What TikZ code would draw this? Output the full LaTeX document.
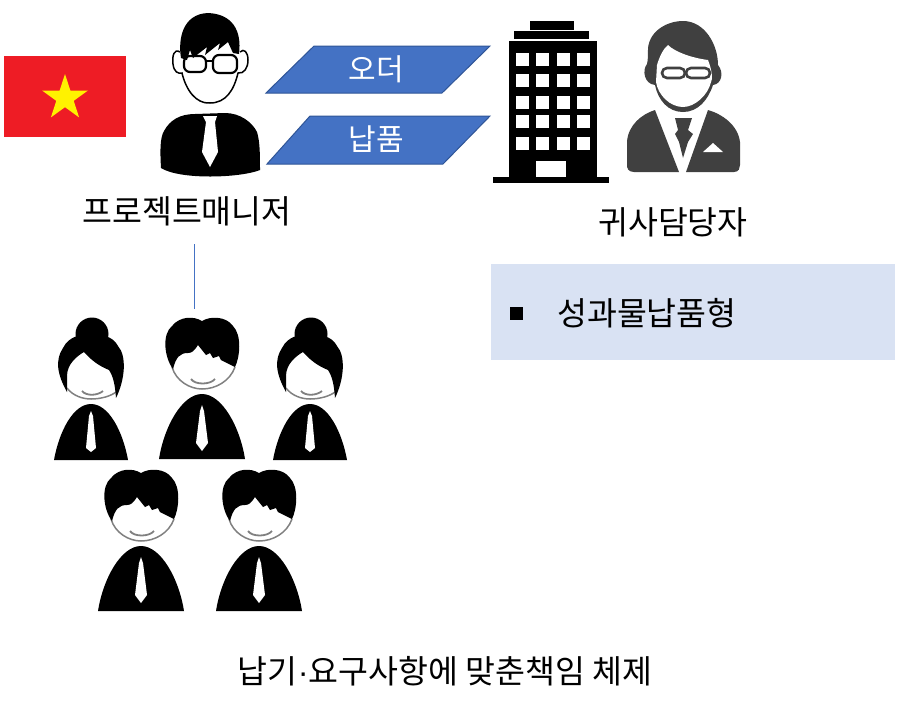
\documentclass[tikz,border=0pt]{standalone}
\usepackage{fontspec}
\setmainfont{Noto Sans CJK KR}
\newfontfamily\dotfont{Liberation Sans}
\usetikzlibrary{shapes.geometric,positioning}

\tikzset{
    bobman/.pic={
        \fill (-43,0) .. controls (-38,-32) and (-20,-65) .. (0,-65) .. controls (20,-65) and (38,-32) .. (43,0) -- cycle;
        \fill[white] (0,-54) -- (-2,-48) -- (-6,-16) -- (0,-8) -- (6,-16) -- (2,-48) -- cycle;
        \draw[gray, line width=1.5pt] (-30,-92) .. controls (-26,-78) and (-12,-70) .. (0,-70) .. controls (14,-70) and (28,-78) .. (33,-92);
        \draw[gray, line width=1.8pt] (-11,-80) .. controls (-7,-74) and (8,-74) .. (13,-80);
        \fill (-29,-90) .. controls (-38,-102) and (-40,-125) .. (-30,-133) .. controls (-22,-143) and (-8,-143) .. (0,-138) .. controls (8,-143) and (24,-143) .. (31,-133) .. controls (40,-124) and (38,-102) .. (33,-92) -- (19,-99) -- (17,-103) -- (11,-101) -- (8,-106) -- (4,-104) -- (-4,-114) .. controls (-8,-108) and (-10,-106) .. (-14,-106) .. controls (-22,-106) and (-26,-102) .. (-29,-90) -- cycle;
    },
    bunwoman/.pic={
        \fill (-37,0) .. controls (-32,-28) and (-18,-56) .. (0,-56) .. controls (18,-56) and (32,-28) .. (37,0) -- cycle;
        \fill[white] (0,-49) -- (-2,-44) -- (-5,-12) -- (0,-8) -- (5,-12) -- (2,-44) -- cycle;
        \draw[gray, line width=1.5pt] (-24,-72) .. controls (-18,-64) and (-8,-61) .. (0,-61) .. controls (10,-61) and (20,-64) .. (25,-68);
        \draw[gray, line width=1.8pt] (-9,-69) .. controls (-5,-64) and (6,-64) .. (12,-69);
        \fill (1,-126) circle (16.5);
        \fill (-24,-68) .. controls (-34,-86) and (-36,-100) .. (-28,-112) .. controls (-22,-124) and (-10,-126) .. (0,-125) .. controls (10,-126) and (22,-124) .. (27,-114) .. controls (36,-104) and (34,-80) .. (25,-62) .. controls (24,-76) and (22,-84) .. (18,-90) .. controls (8,-94) and (0,-100) .. (-7,-108) .. controls (-14,-104) and (-24,-96) .. (-24,-84) -- cycle;
    }
}

\begin{document}
\begin{tikzpicture}[x=1pt, y=-1pt]
            \definecolor{slantblue}{HTML}{4472C4}
            \definecolor{slantedge}{HTML}{2F5597}
            \definecolor{execgray}{HTML}{404040}
            \definecolor{panelblue}{HTML}{D9E2F3}
            \definecolor{flagred}{HTML}{EE1C25}
            \tikzstyle{caption} = [font=\fontsize{32.5}{38}\selectfont, inner sep=0pt]
            \tikzstyle{slant} = [draw=slantedge, line width=1pt, fill=slantblue]
            \tikzstyle{slanttext} = [white, font=\fontsize{30}{36}\selectfont, inner sep=0pt]
            \tikzstyle{exec} = [fill=execgray]

            \useasboundingbox (0,0) rectangle (900,716);

            % flag
            \node [rectangle, fill=flagred, minimum width=122pt, minimum height=81pt, inner sep=0pt] (flag) at (65,96.5) {};
            \node [star, star points=5, star point ratio=2.618, fill=yellow, minimum size=48pt, inner sep=0pt] (flagstar) at (65,98) {};

            % manager
            \fill (161,168) .. controls (160,150) and (160,138) .. (164,131) .. controls (170,120) and (180,114) .. (195,114) -- (225,113) .. controls (240,113) and (252,122) .. (257,132) .. controls (260,142) and (260,155) .. (260,170) .. controls (240,178) and (180,180) .. (161,168) -- cycle;
            \fill[white] (203,116) -- (217,116) -- (215,122) -- (218,152) -- (210,167) -- (202,152) -- (206,122) -- cycle;
            \draw[line width=1.5pt] (180,52) .. controls (174,48) and (172,56) .. (173,64) .. controls (174,72) and (178,74) .. (182,73) .. controls (186,90) and (196,104) .. (210,103) .. controls (226,103) and (234,90) .. (238,73) .. controls (244,74) and (248,68) .. (248,60) .. controls (248,52) and (244,48) .. (240,52);
            \fill (181,58) .. controls (178,40) and (182,14) .. (208,13) .. controls (232,14) and (242,30) .. (239,54) -- (233,53) -- (228,42) -- (218,50) -- (220,43) -- (205,55) -- (207,47) -- (193,58) -- (190,50) -- (187,60) -- cycle;
            \draw[line width=2.2pt, rounded corners=6pt] (184,56) rectangle (206,72);
            \draw[line width=2.2pt, rounded corners=6pt] (213,55) rectangle (237,73);
            \draw[line width=2.2pt] (206,61) -- (213,61);

            % building
            \fill (530,21) rectangle (574,30);
            \fill (514,31) rectangle (589,39);
            \fill (509,41) rectangle (597,177);
            \fill (493,177) rectangle (609,183);
            \foreach \wx in {516,536,557,577} {
                \foreach \wy in {53,74,96,115,137} {
                    \fill[white] (\wx,\wy) rectangle ++(12.5,12.5);
                }
            }
            \fill[white] (536,161) rectangle (566,177);

            % client
            \path [exec] (683,21) .. controls (668,21) and (650,30) .. (648,48) .. controls (648,55) and (648,60) .. (647,64) .. controls (642,70) and (644,84) .. (655,85) .. controls (658,100) and (668,112) .. (683,112) .. controls (698,112) and (708,100) .. (713,85) .. controls (722,84) and (724,72) .. (718,65) .. controls (718,45) and (705,21) .. (683,21) -- cycle;
            \fill[white] (657,65) .. controls (660,55) and (664,48) .. (668,45) .. controls (675,52) and (692,58) .. (708,60) .. controls (712,70) and (713,80) .. (711,82) .. controls (708,95) and (695,107) .. (683,107) .. controls (670,107) and (658,95) .. (656,82) -- cycle;
            \draw[execgray, line width=2.6pt, rounded corners=5pt] (662,68) rectangle (685,78);
            \draw[execgray, line width=2.6pt, rounded corners=5pt] (686,68) rectangle (710,78);
            \path [exec] (655,110) -- (679,172) -- (634,172) .. controls (628,172) and (627,168) .. (627,165) -- (627,142) .. controls (628,125) and (642,114) .. (655,110) -- cycle;
            \path [exec] (708,110) -- (686,172) -- (734,172) .. controls (739,172) and (740,168) .. (740,165) -- (740,142) .. controls (738,125) and (722,114) .. (708,110) -- cycle;
            \path [exec] (675,118) -- (692,118) -- (688,130) -- (693,134) -- (688,142) -- (683,158) -- (679,142) -- (675,134) -- (678,130) -- cycle;
            \fill[white] (703,152) -- (713,143) -- (723,152) -- cycle;

            % order and delivery
            \draw [slant] (266,93) -- (314,46) -- (490,46) -- (442,93) -- cycle;
            \draw [slant] (267,164) -- (310,116) -- (490,116) -- (443,164) -- cycle;
            \node [slanttext] (order) at (376,69) {오더};
            \node [slanttext] (delivery) at (376,139) {납품};

            % labels
            \node [caption] (manager) at (187,211) {프로젝트매니저};
            \node [caption] (client) at (673,222) {귀사담당자};
            \node [rectangle, fill=panelblue, minimum width=404pt, minimum height=96pt, inner sep=0pt] (panel) at (693,312) {};
            \node [rectangle, fill=black, minimum size=13pt, inner sep=0pt] (bullet) at (516.5,313.5) {};
            \node [caption, anchor=west] (deliverable) at (557,313) {성과물납품형};
            \node [caption] (system) at (445,671) {납기{\dotfont ·}요구사항에 맞춘책임 체제};

            % staff
            \pic at (91,460) {bunwoman};
            \pic at (202,459) {bobman};
            \pic at (310,460) {bunwoman};
            \pic at (141,611) {bobman};
            \pic at (259,611) {bobman};

            \coordinate (linetop) at (194,244);
            \coordinate (linebottom) at (194,309);
            \draw [slantblue, line width=1pt] (linetop) -- (linebottom);
        \end{tikzpicture}
\end{document}
